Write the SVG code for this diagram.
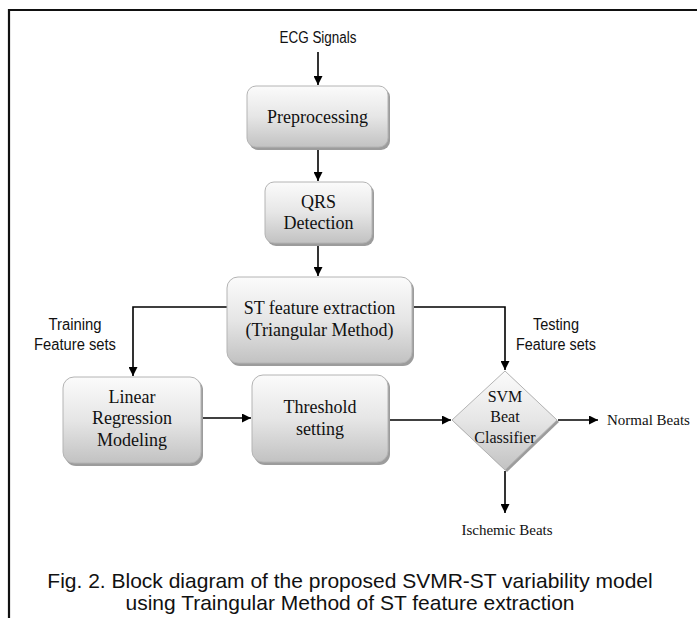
<svg xmlns="http://www.w3.org/2000/svg" width="697" height="618" viewBox="0 0 697 618">
<defs>
<linearGradient id="g" x1="0" y1="0" x2="0" y2="1">
<stop offset="0" stop-color="#fbfbfb"/>
<stop offset="0.5" stop-color="#e6e6e6"/>
<stop offset="1" stop-color="#c2c2c2"/>
</linearGradient>
<marker id="ah" viewBox="0 0 10 10" refX="10" refY="5" markerWidth="9" markerHeight="9" markerUnits="userSpaceOnUse" orient="auto">
<path d="M0,0 L10,5 L0,10 z" fill="#000"/>
</marker>
</defs>
<style>
.box{fill:url(#g);stroke:#b4b4b4;stroke-width:1}
.sh{fill:#9c9c9c}
.t{font-family:"Liberation Serif","Times New Roman",serif;font-size:18px;fill:#111;text-anchor:middle}
.s{font-family:"Liberation Serif","Times New Roman",serif;font-size:15px;fill:#111}
.n{font-family:"Liberation Sans",Arial,sans-serif;font-size:16px;fill:#111;text-anchor:middle}
.c{font-family:"Liberation Sans",Arial,sans-serif;font-size:21px;fill:#111;text-anchor:middle}
.ln{fill:none;stroke:#000;stroke-width:1.6}
.fr{fill:none;stroke:#111;stroke-width:2.2}
</style>
<rect width="697" height="618" fill="#fff"/>
<path class="fr" d="M9,618 V10 H697"/>

<g id="connectors">
<path class="ln" d="M318,52 V85" marker-end="url(#ah)"/>
<path class="ln" d="M318,149 V181" marker-end="url(#ah)"/>
<path class="ln" d="M318,245 V276" marker-end="url(#ah)"/>
<path class="ln" d="M227,307 H133 V376" marker-end="url(#ah)"/>
<path class="ln" d="M412,307 H505 V370" marker-end="url(#ah)"/>
<path class="ln" d="M202,418 H251" marker-end="url(#ah)"/>
<path class="ln" d="M389,420 H451" marker-end="url(#ah)"/>
<path class="ln" d="M558,420 H598" marker-end="url(#ah)"/>
<path class="ln" d="M505,471 V513" marker-end="url(#ah)"/>
</g>

<g id="ecg-label"><text class="n" x="318" y="43" textLength="77" lengthAdjust="spacingAndGlyphs">ECG Signals</text></g>

<g id="preprocessing">
<rect class="sh" x="249" y="88" width="141" height="62" rx="9"/>
<rect class="box" x="247" y="86" width="141" height="61" rx="9"/>
<text class="t" x="317.5" y="123">Preprocessing</text>
</g>

<g id="qrs">
<rect class="sh" x="267" y="184" width="107" height="62" rx="9"/>
<rect class="box" x="265" y="182" width="107" height="61" rx="9"/>
<text class="t" x="318.5" y="208">QRS</text>
<text class="t" x="318.5" y="229">Detection</text>
</g>

<g id="st">
<rect class="sh" x="229" y="279" width="185" height="87" rx="11"/>
<rect class="box" x="227" y="277" width="185" height="86" rx="11"/>
<text class="t" x="319.5" y="314">ST feature extraction</text>
<text class="t" x="319.5" y="336">(Triangular Method)</text>
</g>

<g id="training-label">
<text class="n" x="75" y="330" textLength="53" lengthAdjust="spacingAndGlyphs">Training</text>
<text class="n" x="75" y="350" textLength="82" lengthAdjust="spacingAndGlyphs">Feature sets</text>
</g>

<g id="testing-label">
<text class="n" x="556" y="330" textLength="46" lengthAdjust="spacingAndGlyphs">Testing</text>
<text class="n" x="556" y="350" textLength="80" lengthAdjust="spacingAndGlyphs">Feature sets</text>
</g>

<g id="linear">
<rect class="sh" x="65" y="379" width="138" height="87" rx="11"/>
<rect class="box" x="63" y="377" width="138" height="86" rx="11"/>
<text class="t" x="132" y="403">Linear</text>
<text class="t" x="132" y="424">Regression</text>
<text class="t" x="132" y="446">Modeling</text>
</g>

<g id="threshold">
<rect class="sh" x="254" y="377" width="136" height="88" rx="11"/>
<rect class="box" x="252" y="375" width="136" height="87" rx="11"/>
<text class="t" x="320" y="413">Threshold</text>
<text class="t" x="320" y="435">setting</text>
</g>

<g id="svm">
<path class="sh" d="M507,373 L559,422 L507,472 L454,422 z"/>
<path class="box" d="M505,371 L557,420 L505,470 L452,420 z"/>
<text class="t" x="505" y="402" style="font-size:16px">SVM</text>
<text class="t" x="505" y="422" style="font-size:16px">Beat</text>
<text class="t" x="505" y="443" style="font-size:16px">Classifier</text>
</g>

<g id="normal-label"><text class="s" x="607" y="425">Normal Beats</text></g>
<g id="ischemic-label"><text class="s" x="507" y="535" text-anchor="middle">Ischemic Beats</text></g>

<g id="caption">
<text class="c" x="350" y="588">Fig. 2. Block diagram of the proposed SVMR-ST variability model</text>
<text class="c" x="350" y="610">using Traingular Method of ST feature extraction</text>
</g>
</svg>
